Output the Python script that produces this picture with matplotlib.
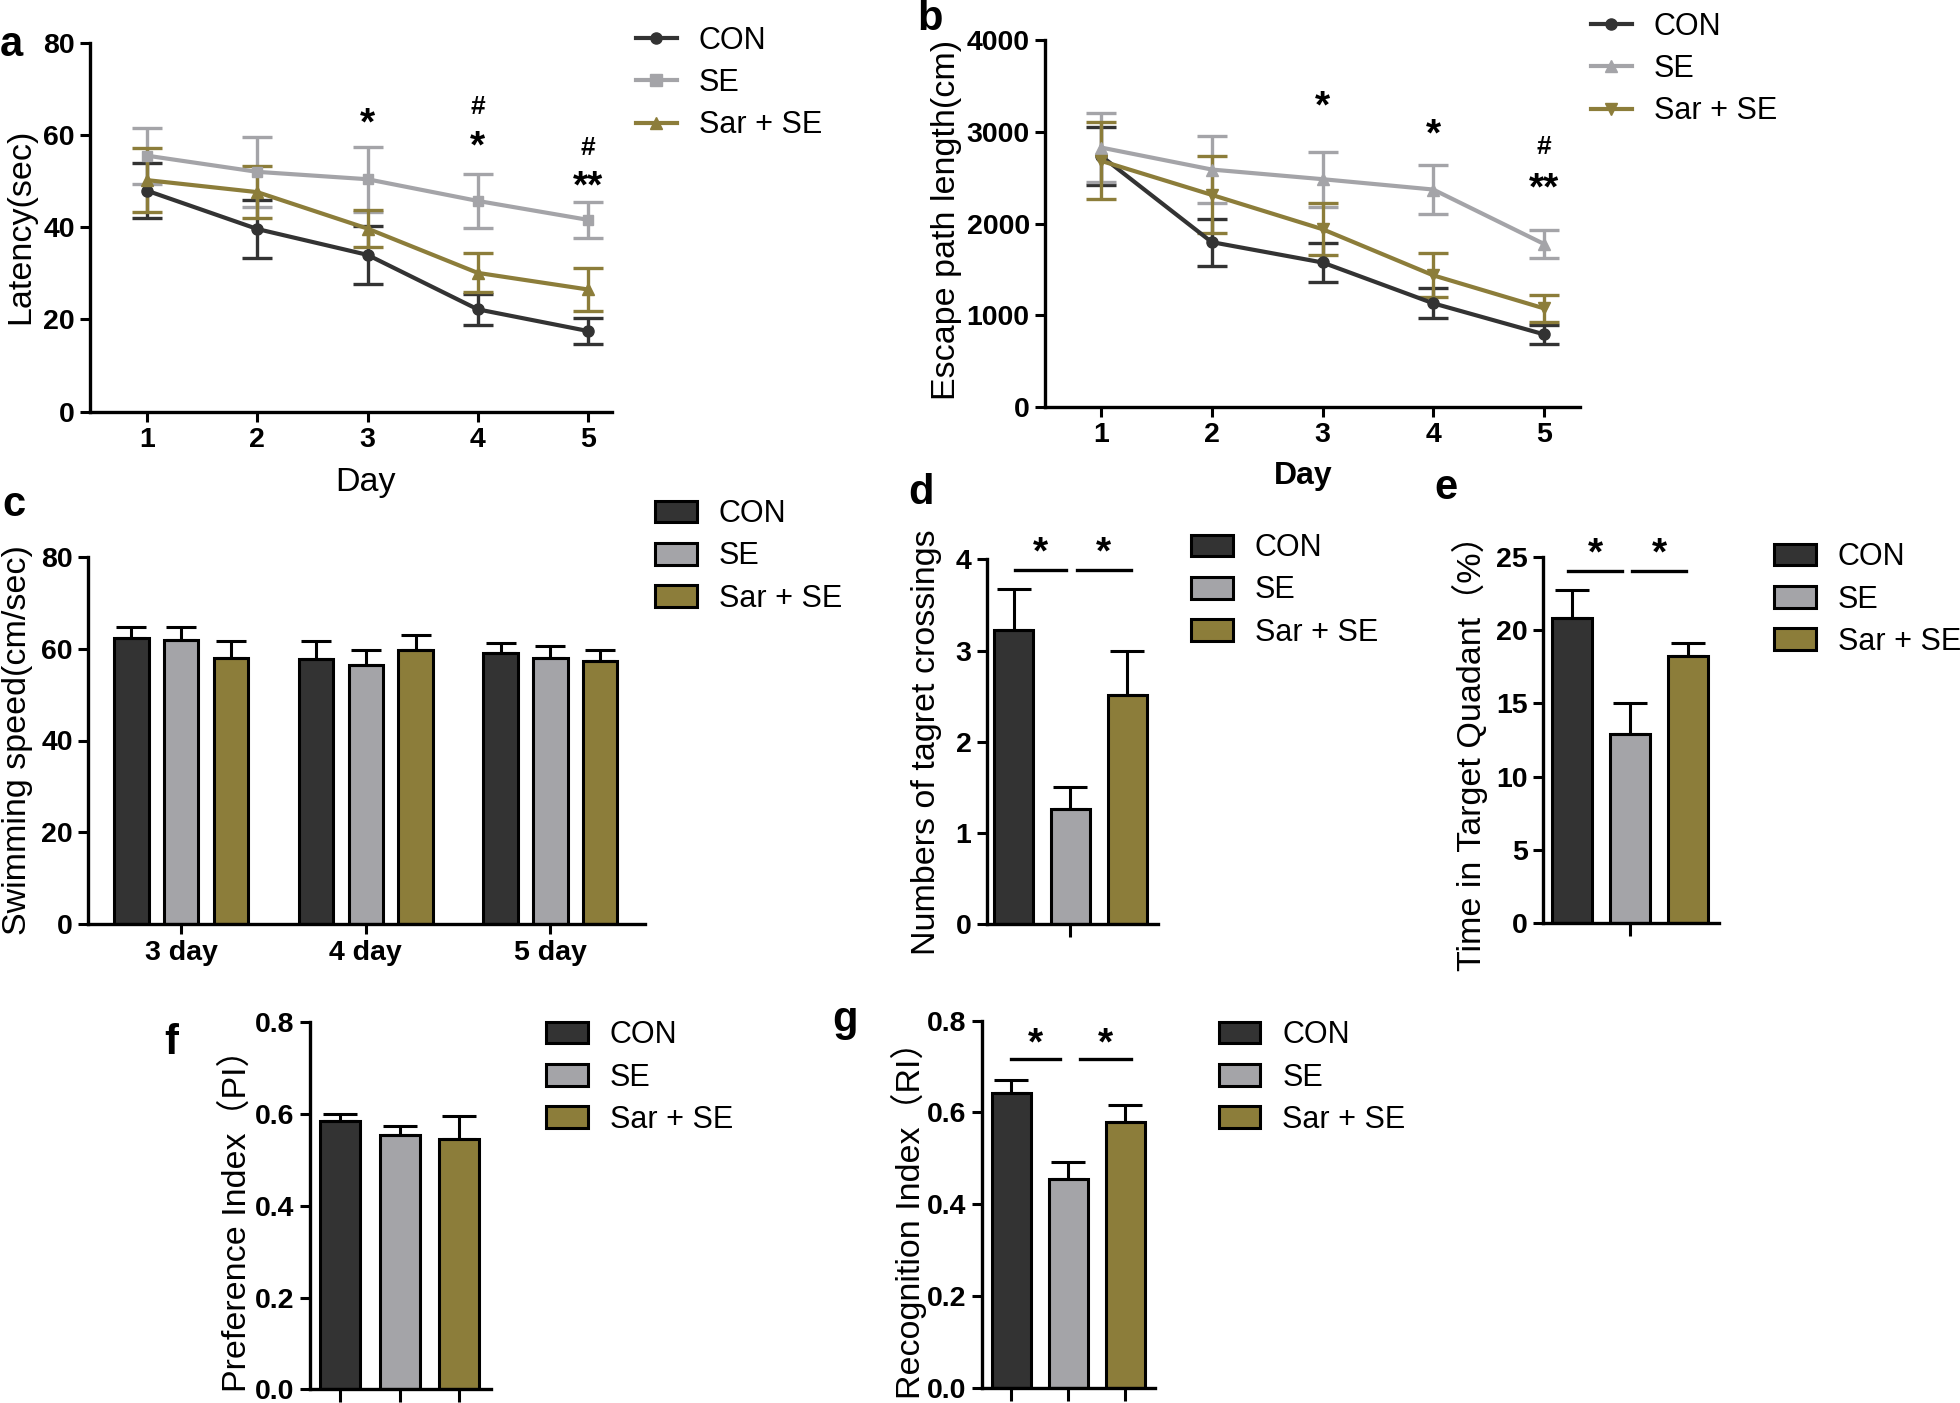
import matplotlib
matplotlib.use("Agg")
import matplotlib.pyplot as plt
from matplotlib.lines import Line2D
from matplotlib.patches import Patch
import numpy as np

plt.rcParams['font.family'] = ['Liberation Sans', 'Noto Sans CJK SC', 'DejaVu Sans']

# ---------------- data ----------------
groups = ['CON', 'SE', 'Sar + SE']
days = [1, 2, 3, 4, 5]

lat_con = [47.9, 39.6, 34.0, 22.2, 17.5]
lat_con_err = [6.0, 6.2, 6.3, 3.3, 2.8]
lat_se = [55.5, 52.0, 50.4, 45.7, 41.6]
lat_se_err = [6.1, 7.6, 7.0, 5.8, 3.9]
lat_sar = [50.2, 47.6, 39.7, 30.1, 26.5]
lat_sar_err = [7.0, 5.6, 4.0, 4.2, 4.7]

path_con = [2737, 1797, 1575, 1130, 792]
path_con_err = [320, 255, 215, 163, 105]
path_se = [2828, 2588, 2483, 2370, 1777]
path_se_err = [380, 367, 300, 265, 155]
path_sar = [2683, 2312, 1938, 1435, 1075]
path_sar_err = [420, 420, 280, 240, 150]

speed_days = ['3 day', '4 day', '5 day']
speed_con = [62.2, 57.8, 59.0]
speed_con_err = [2.6, 3.8, 2.3]
speed_se = [61.8, 56.4, 57.9]
speed_se_err = [3.0, 3.2, 2.7]
speed_sar = [57.9, 59.8, 57.4]
speed_sar_err = [3.7, 3.2, 2.3]

crossings = [3.23, 1.26, 2.51]
crossings_err = [0.44, 0.25, 0.49]
quadrant = [20.83, 12.89, 18.25]
quadrant_err = [1.93, 2.12, 0.91]
pref_index = [0.584, 0.554, 0.546]
pref_index_err = [0.017, 0.019, 0.049]
recog_index = [0.642, 0.455, 0.580]
recog_index_err = [0.029, 0.038, 0.036]

# significance marks (x, y, text)
sig_a = [(3, 64.7, '*'), (4, 66.0, '#'), (4, 59.6, '*'), (5, 57.2, '#'), (5, 51.0, '**')]
sig_b = [(3, 3383, '*'), (4, 3075, '*'), (5, 2837, '#'), (5, 2492, '**')]

# ---------------- style ----------------
C_CON = '#333333'
C_SE = '#A4A4A8'
C_SAR = '#8C7D3A'
colors = [C_CON, C_SE, C_SAR]

W, H = 1960, 1403
fig = plt.figure(figsize=(W / 100, H / 100), dpi=100)

LW = 2.4
TICK_FS = 20.5
LAB_FS = 24.5
LEG_FS = 22


def add_ax(x0, x1, y0, y1):
    return fig.add_axes([x0 / W, 1 - y1 / H, (x1 - x0) / W, (y1 - y0) / H])


def style(ax, yticks, ylabels, ylim, fs=TICK_FS):
    for s in ['top', 'right']:
        ax.spines[s].set_visible(False)
    for s in ['left', 'bottom']:
        ax.spines[s].set_linewidth(LW)
    ax.tick_params(direction='out', length=7, width=2.2, pad=4)
    ax.set_ylim(*ylim)
    ax.set_yticks(yticks, ylabels, fontweight='bold', fontsize=fs)


def ylabel(x, y, s):
    fig.text(x / W, 1 - y / H, s, rotation=90, ha='center', va='center', fontsize=LAB_FS)


def letter(x, y, s):
    fig.text(x / W, 1 - y / H, s, ha='center', va='center', fontsize=30, fontweight='bold')


def line_legend(x, y, markers, fs=LEG_FS):
    handles = [Line2D([0], [0], color=c, marker=m, lw=3, markersize=8)
               for c, m in zip(colors, markers)]
    fig.legend(handles, groups, loc='center left', bbox_to_anchor=(x / W, 1 - y / H),
               bbox_transform=fig.transFigure, frameon=False, fontsize=fs,
               borderpad=0, borderaxespad=0, handlelength=1.34, handletextpad=0.72,
               labelspacing=0.40)


def bar_legend(x, y):
    handles = [Patch(facecolor=c, edgecolor='black', linewidth=2.2) for c in colors]
    fig.legend(handles, groups, loc='center left', bbox_to_anchor=(x / W, 1 - y / H),
               bbox_transform=fig.transFigure, frameon=False, fontsize=LEG_FS,
               borderpad=0, borderaxespad=0, handlelength=1.37, handleheight=0.72,
               handletextpad=0.72, labelspacing=0.40)


def sig_text(ax, x, y, s):
    fs = 19 if s == '#' else 28
    off = 0 if s == '#' else -8
    ax.annotate(s, (x, y), xytext=(0, off), textcoords='offset points', ha='center',
                va='center', fontsize=fs, fontweight='bold', annotation_clip=False)


# ---------------- panel a ----------------
ax = add_ax(90, 612, 42.7, 411.7)
for vals, errs, c, m, ms in [(lat_con, lat_con_err, C_CON, 'o', 8),
                             (lat_se, lat_se_err, C_SE, 's', 7.5),
                             (lat_sar, lat_sar_err, C_SAR, '^', 8.5)]:
    ax.errorbar(days, vals, yerr=errs, color=c, marker=m, markersize=ms, lw=3,
                elinewidth=2.4, capsize=10.5, capthick=2.4, clip_on=False)
style(ax, [0, 20, 40, 60, 80], ['0', '20', '40', '60', '80'], (0, 80))
ax.set_xlim(0.48, 5.22)
ax.set_xticks(days, [str(d) for d in days], fontweight='bold', fontsize=TICK_FS)
for x, y, s in sig_a:
    sig_text(ax, x, y, s)
fig.text(366 / W, 1 - 483 / H, 'Day', ha='center', va='center', fontsize=LAB_FS)
ylabel(21, 226, 'Latency(sec)')
letter(11, 45, 'a')
line_legend(636, 83, ['o', 's', '^'])

# ---------------- panel b ----------------
ax = add_ax(1045, 1580, 40, 407)
for vals, errs, c, m, ms in [(path_con, path_con_err, C_CON, 'o', 8),
                             (path_se, path_se_err, C_SE, '^', 8.5),
                             (path_sar, path_sar_err, C_SAR, 'v', 8.5)]:
    ax.errorbar(days, vals, yerr=errs, color=c, marker=m, markersize=ms, lw=3,
                elinewidth=2.4, capsize=10.5, capthick=2.4, clip_on=False)
style(ax, [0, 1000, 2000, 3000, 4000], ['0', '1000', '2000', '3000', '4000'], (0, 4000))
ax.set_xlim(0.494, 5.325)
ax.set_xticks(days, [str(d) for d in days], fontweight='bold', fontsize=TICK_FS)
for x, y, s in sig_b:
    sig_text(ax, x, y, s)
fig.text(1303 / W, 1 - 476 / H, 'Day', ha='center', va='center', fontsize=23,
         fontweight='bold')
ylabel(946, 220, 'Escape path length(cm)')
letter(930, 19, 'b')
line_legend(1591, 69, ['o', '^', 'v'])

# ---------------- panel c ----------------
ax = add_ax(88, 644.5, 556.7, 924.3)
xg = np.arange(len(speed_days))
bw = 0.187
off = 0.27
for i, (vals, errs, c) in enumerate([(speed_con, speed_con_err, C_CON),
                                     (speed_se, speed_se_err, C_SE),
                                     (speed_sar, speed_sar_err, C_SAR)]):
    xp = xg + (i - 1) * off
    ax.bar(xp, vals, width=bw, color=c, edgecolor='black', linewidth=2.2, zorder=2)
    ax.errorbar(xp, vals, yerr=[np.zeros(len(vals)), errs], fmt='none', ecolor='black',
                elinewidth=2.2, capsize=11, capthick=2.2, zorder=3)
style(ax, [0, 20, 40, 60, 80], ['0', '20', '40', '60', '80'], (0, 80))
ax.set_xlim(-0.505, 2.51)
ax.set_xticks(xg, speed_days, fontweight='bold', fontsize=TICK_FS)
ylabel(18, 740, 'Swimming speed(cm/sec)')
letter(14, 505, 'c')
bar_legend(655, 556.5)


def single_bar_panel(box, vals, errs, yticks, ylabs, ylim, xlim, ticks, width):
    ax = add_ax(*box)
    xp = np.arange(len(vals)) + (-1 if len(ticks) == 1 else 0)
    ax.bar(xp, vals, width=width, color=colors, edgecolor='black', linewidth=2.2, zorder=2)
    ax.errorbar(xp, vals, yerr=[np.zeros(len(vals)), errs], fmt='none', ecolor='black',
                elinewidth=2.2, capsize=12, capthick=2.2, zorder=3)
    style(ax, yticks, ylabs, ylim)
    ax.set_xlim(*xlim)
    ax.set_xticks(ticks, [''] * len(ticks))
    ax.tick_params(axis='x', length=9)
    return ax, xp


def sig_lines(ax, segs, y, stars_y):
    for (a, b) in segs:
        ax.plot([a, b], [y, y], color='black', lw=2.4, clip_on=False)
        sig_text(ax, (a + b) / 2, stars_y, '*')


# ---------------- panel d ----------------
ax, xp = single_bar_panel((986.7, 1157.7, 559.3, 924.3), crossings, crossings_err,
                          [0, 1, 2, 3, 4], ['0', '1', '2', '3', '4'], (0, 4),
                          (-1.475, 1.535), [0], 0.687)
sig_lines(ax, [(-0.97, -0.08), (0.11, 1.06)], 3.883, 4.19)
ylabel(926, 742, 'Numbers of tagret crossings')
letter(921, 493, 'd')
bar_legend(1190.7, 590.5)

# ---------------- panel e ----------------
ax, xp = single_bar_panel((1543.3, 1719, 557.3, 922.7), quadrant, quadrant_err,
                          [0, 5, 10, 15, 20, 25], ['0', '5', '10', '15', '20', '25'], (0, 25),
                          (-1.49, 1.53), [0], 0.68)
sig_lines(ax, [(-1.065, -0.137), (0.043, 0.962)], 24.09, 25.96)
ylabel(1470, 745, 'Time in Target Quadant（%）')
letter(1446, 488, 'e')
bar_legend(1774, 599.5)

# ---------------- panel f ----------------
ax, xp = single_bar_panel((309.8, 490.6, 1022.3, 1389.3), pref_index, pref_index_err,
                          [0, 0.2, 0.4, 0.6, 0.8], ['0.0', '0.2', '0.4', '0.6', '0.8'], (0, 0.8),
                          (-0.516, 2.533), [0, 1, 2], 0.675)
ylabel(237, 1212, 'Preference Index（PI）')
letter(171, 1043, 'f')
bar_legend(545.7, 1077.5)

# ---------------- panel g ----------------
ax, xp = single_bar_panel((982, 1155.3, 1020.7, 1387.7), recog_index, recog_index_err,
                          [0, 0.2, 0.4, 0.6, 0.8], ['0.0', '0.2', '0.4', '0.6', '0.8'], (0, 0.8),
                          (-0.516, 2.525), [0, 1, 2], 0.68)
sig_lines(ax, [(0.0, 0.855), (1.2, 2.09)], 0.7158, 0.7725)
ylabel(909, 1212, 'Recognition Index（RI）')
letter(845, 1020, 'g')
bar_legend(1218.6, 1077.5)

fig.savefig('out.png', dpi=100)
